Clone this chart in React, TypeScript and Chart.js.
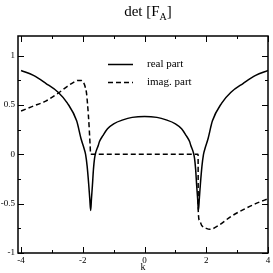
import React, { useEffect, useRef } from "react";
import { Chart, registerables } from "chart.js";

Chart.register(...registerables);

// ---- data ----
const realK = [
  -4, -3.6, -3.2, -2.8, -2.5, -2.2, -2.05, -1.95, -1.91, -1.86, -1.81, -1.775, -1.745,
  -1.72, -1.69, -1.655, -1.62, -1.58, -1.5, -1.46, -1.35, -1.2, -1.0, -0.7, -0.4, 0,
  0.4, 0.7, 1.0, 1.2, 1.35, 1.46, 1.5, 1.58, 1.62, 1.655, 1.69, 1.72,
  1.745, 1.775, 1.81, 1.86, 1.91, 1.95, 2.05, 2.2, 2.5, 2.8, 3.2, 3.6, 4,
];
const realV = [
  0.85, 0.8, 0.72, 0.63, 0.52, 0.34, 0.15, 0.05, 0.0, -0.12, -0.3, -0.45, -0.57,
  -0.45, -0.32, -0.15, -0.04, 0.02, 0.09, 0.13, 0.19, 0.26, 0.31, 0.35, 0.375, 0.385,
  0.375, 0.35, 0.31, 0.26, 0.19, 0.13, 0.09, 0.02, -0.04, -0.15, -0.32, -0.45,
  -0.57, -0.45, -0.3, -0.12, 0.0, 0.05, 0.15, 0.34, 0.52, 0.63, 0.72, 0.8, 0.85,
];
const imagK = [
  -4, -3.6, -3.2, -2.8, -2.5, -2.3, -2.15, -2.05, -1.98, -1.92, -1.88, -1.85, -1.82,
  -1.79, -1.765, -1.745, 1.735, 1.74, 1.78, 1.85, 2.0, 2.12, 2.4, 2.8, 3.2, 3.6, 4,
];
const imagV = [
  0.44, 0.49, 0.54, 0.62, 0.69, 0.73, 0.75, 0.75, 0.73, 0.68, 0.62, 0.52, 0.4,
  0.25, 0.1, 0.0, 0.0, -0.57, -0.67, -0.72, -0.75, -0.76, -0.72, -0.63, -0.56, -0.5, -0.45,
];
const seriesLabels = ["real part", "imag. part"];
const xMajor = [-4, -2, 0, 2, 4];
const xMinor = [-3, -1, 1, 3];
const yMajor = [-1, -0.5, 0, 0.5, 1];
const yMinor = [-0.75, -0.25, 0.25, 0.75];
const titleMain = "det [F";
const titleSub = "A";
const titleEnd = "]";
const xTitle = "k";

const SERIF = "'Liberation Serif', 'DejaVu Serif', serif";

export default function App() {
  const ref = useRef<HTMLCanvasElement | null>(null);

  useEffect(() => {
    document.body.style.margin = "0";
    const canvas = ref.current;
    if (!canvas) return;

    const framePlugin = {
      id: "frameTicks",
      afterDatasetsDraw(chart: any) {
        const { ctx, chartArea: a, scales } = chart;
        const xs = scales.x;
        const ys = scales.y;
        ctx.save();
        ctx.strokeStyle = "#000";
        ctx.lineWidth = 1;
        const tick = (len: number, vals: number[], axis: "x" | "y") => {
          vals.forEach((v) => {
            ctx.beginPath();
            if (axis === "x") {
              const p = Math.round(xs.getPixelForValue(v)) + 0.5;
              ctx.moveTo(p, a.bottom);
              ctx.lineTo(p, a.bottom - len);
              ctx.moveTo(p, a.top);
              ctx.lineTo(p, a.top + len);
            } else {
              const p = Math.round(ys.getPixelForValue(v)) + 0.5;
              ctx.moveTo(a.left, p);
              ctx.lineTo(a.left + len, p);
              ctx.moveTo(a.right, p);
              ctx.lineTo(a.right - len, p);
            }
            ctx.stroke();
          });
        };
        tick(6, xMajor, "x");
        tick(3, xMinor, "x");
        tick(6, yMajor, "y");
        tick(3, yMinor, "y");
        ctx.lineWidth = 1.5;
        ctx.strokeRect(a.left, a.top, a.right - a.left, a.bottom - a.top);
        ctx.restore();
      },
      afterDraw(chart: any) {
        const { ctx } = chart;
        ctx.save();
        ctx.fillStyle = "#000";
        ctx.textBaseline = "alphabetic";
        // title
        ctx.font = `15px ${SERIF}`;
        const w1 = ctx.measureText(titleMain).width;
        ctx.font = `10px ${SERIF}`;
        const w2 = ctx.measureText(titleSub).width;
        ctx.font = `15px ${SERIF}`;
        const w3 = ctx.measureText(titleEnd).width;
        let x = 148 - (w1 + w2 + w3) / 2;
        const base = 16;
        ctx.fillText(titleMain, x, base);
        x += w1;
        ctx.font = `10px ${SERIF}`;
        ctx.fillText(titleSub, x, base + 4);
        x += w2;
        ctx.font = `15px ${SERIF}`;
        ctx.fillText(titleEnd, x, base);
        // legend
        const ys = [64, 82];
        chart.data.datasets.forEach((ds: any, i: number) => {
          const y = ys[i] + 0.5;
          ctx.strokeStyle = ds.borderColor;
          ctx.lineWidth = ds.borderWidth;
          ctx.setLineDash(ds.borderDash || []);
          ctx.beginPath();
          ctx.moveTo(108, y);
          ctx.lineTo(133, y);
          ctx.stroke();
          ctx.setLineDash([]);
          ctx.font = `11px ${SERIF}`;
          ctx.textBaseline = "middle";
          ctx.fillText(ds.label, 147, y);
        });
        ctx.restore();
      },
    };

    const chart = new Chart(canvas, {
      type: "line",
      data: {
        datasets: [
          {
            label: seriesLabels[0],
            data: realK.map((k, i) => ({ x: k, y: realV[i] })),
            borderColor: "#000",
            borderWidth: 1.5,
            pointRadius: 0,
            cubicInterpolationMode: "monotone",
            fill: false,
          },
          {
            label: seriesLabels[1],
            data: imagK.map((k, i) => ({ x: k, y: imagV[i] })),
            borderColor: "#000",
            borderWidth: 1.5,
            borderDash: [5, 3],
            pointRadius: 0,
            cubicInterpolationMode: "monotone",
            fill: false,
          },
        ],
      },
      options: {
        responsive: false,
        animation: false,
        events: [],
        layout: { padding: { top: 36, right: 5, left: 0, bottom: 0 } },
        plugins: {
          legend: { display: false },
          title: { display: false },
          tooltip: { enabled: false },
        },
        scales: {
          x: {
            type: "linear",
            min: -4.1,
            max: 4,
            grid: { display: false, drawTicks: false },
            border: { display: false },
            afterBuildTicks: (s: any) => {
              s.ticks = xMajor.map((value) => ({ value }));
            },
            afterFit: (s: any) => {
              s.height = 20;
            },
            ticks: {
              font: { family: SERIF, size: 9 },
              color: "#000",
              padding: 2,
              maxRotation: 0,
              autoSkip: false,
              callback: (v: any) => String(v),
            },
            title: {
              display: true,
              text: xTitle,
              font: { family: SERIF, size: 10 },
              color: "#000",
              padding: 0,
            },
          },
          y: {
            type: "linear",
            min: -1,
            max: 1.2,
            grid: { display: false, drawTicks: false },
            border: { display: false },
            afterBuildTicks: (s: any) => {
              s.ticks = yMajor.map((value) => ({ value }));
            },
            afterFit: (s: any) => {
              s.width = 18;
            },
            ticks: {
              font: { family: SERIF, size: 9 },
              color: "#000",
              padding: 3,
              autoSkip: false,
              callback: (v: any) => String(v),
            },
          },
        },
      },
      plugins: [framePlugin],
    });
    return () => chart.destroy();
  }, []);

  return (
    <div style={{ width: 273, height: 273, background: "#fff" }}>
      <canvas ref={ref} width={273} height={273} />
    </div>
  );
}
